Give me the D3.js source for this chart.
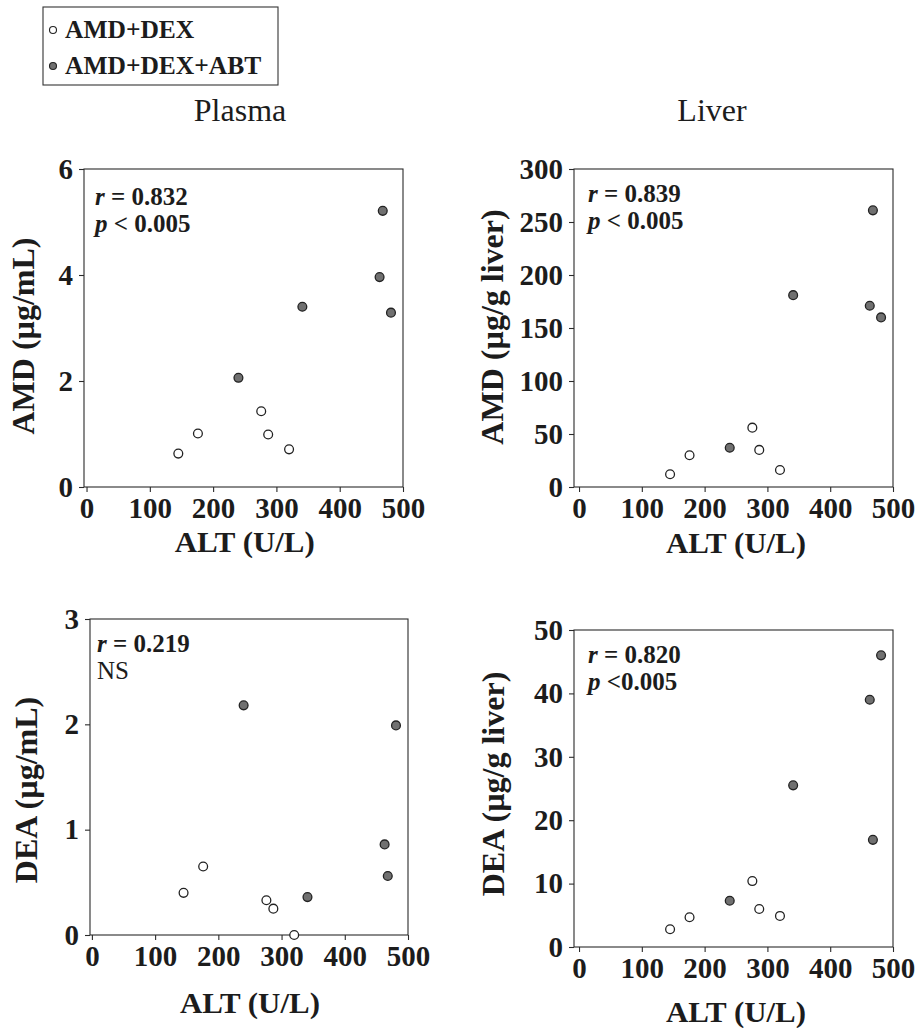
<!DOCTYPE html>
<html>
<head>
<meta charset="utf-8">
<script src="https://cdn.jsdelivr.net/npm/d3@7"></script>
<style>
  body { margin: 0; background: #fff; }
  svg { display: block; }
  text { font-family: "Liberation Serif", "Times New Roman", serif; fill: #1c1c1c; }
</style>
</head>
<body>
<svg id="chart" width="923" height="1028"></svg>
<script>
// Treatment groups
const groups = ["AMD+DEX", "AMD+DEX+ABT"];

// ALT (U/L) of each animal, per group
const altAmdDex    = [145, 176, 276, 287, 320];
const altAmdDexAbt = [240, 341, 463, 468, 481];

// Amiodarone (AMD) and desethylamiodarone (DEA) concentrations
const plasmaAmdDex    = [0.63, 1.01, 1.43, 0.99, 0.71];   // µg/mL
const plasmaAmdDexAbt = [2.06, 3.40, 3.96, 5.21, 3.29];
const liverAmdDex     = [12, 30, 56, 35, 16];              // µg/g liver
const liverAmdDexAbt  = [37, 181, 171, 261, 160];
const plasmaDeaDex    = [0.40, 0.65, 0.33, 0.25, 0.00];    // µg/mL
const plasmaDeaDexAbt = [2.18, 0.36, 0.86, 0.56, 1.99];
const liverDeaDex     = [2.8, 4.7, 10.4, 6.0, 4.9];        // µg/g liver
const liverDeaDexAbt  = [7.3, 25.5, 39.0, 16.9, 46.0];

// Axis ticks
const altTicks       = [0, 100, 200, 300, 400, 500];
const plasmaAmdTicks = [0, 2, 4, 6];
const liverAmdTicks  = [0, 50, 100, 150, 200, 250, 300];
const plasmaDeaTicks = [0, 1, 2, 3];
const liverDeaTicks  = [0, 10, 20, 30, 40, 50];

// Labels
const columnTitles = ["Plasma", "Liver"];
const xTitle = "ALT (U/L)";
const yTitles = ["AMD (µg/mL)", "AMD (µg/g liver)", "DEA (µg/mL)", "DEA (µg/g liver)"];
const rValues = ["0.832", "0.839", "0.219", "0.820"];
const pTexts  = ["< 0.005", "< 0.005", null, "<0.005"];

const svg = d3.select("#chart");

const panels = [
  { box: [84, 169, 403, 487], xMin: -4, yTicks: plasmaAmdTicks, open: plasmaAmdDex, fill: plasmaAmdDexAbt,
    yTitle: yTitles[0], yTitlePos: [23, 336], xTitleY: 552, r: rValues[0], p: pTexts[0], stat: [95, 205] },
  { box: [574, 169, 893, 487], xMin: -8, yTicks: liverAmdTicks, open: liverAmdDex, fill: liverAmdDexAbt,
    yTitle: yTitles[1], yTitlePos: [492, 327], xTitleY: 553, r: rValues[1], p: pTexts[1], stat: [588, 202] },
  { box: [90, 619, 408, 935], xMin: -3, yTicks: plasmaDeaTicks, open: plasmaDeaDex, fill: plasmaDeaDexAbt,
    yTitle: yTitles[2], yTitlePos: [26, 790], xTitleY: 1013, r: rValues[2], p: pTexts[2], stat: [97, 652] },
  { box: [574, 630, 893, 947], xMin: -8, yTicks: liverDeaTicks, open: liverDeaDex, fill: liverDeaDexAbt,
    yTitle: yTitles[3], yTitlePos: [493, 784], xTitleY: 1022, r: rValues[3], p: pTexts[3], stat: [588, 663] }
];

panels.forEach(pn => {
  const [x0, y0, x1, y1] = pn.box;
  const x = d3.scaleLinear().domain([pn.xMin, 500]).range([x0, x1]);
  const yMax = pn.yTicks[pn.yTicks.length - 1];
  const y = d3.scaleLinear().domain([0, yMax]).range([y1, y0]);
  const g = svg.append("g");

  // frame
  g.append("rect")
    .attr("x", x0).attr("y", y0).attr("width", x1 - x0).attr("height", y1 - y0)
    .attr("fill", "none").attr("stroke", "#2a2a2a").attr("stroke-width", 1.1);

  const xAxis = g.append("g").attr("transform", `translate(0,${y1})`)
    .call(d3.axisBottom(x).tickValues(altTicks).tickFormat(d3.format("d"))
      .tickSizeOuter(0).tickSize(5).tickPadding(5));
  const yAxis = g.append("g").attr("transform", `translate(${x0},0)`)
    .call(d3.axisLeft(y).tickValues(pn.yTicks).tickFormat(d3.format("d"))
      .tickSizeOuter(0).tickSize(5).tickPadding(6));
  [xAxis, yAxis].forEach(a => {
    a.select(".domain").remove();
    a.selectAll(".tick line").attr("stroke", "#2a2a2a").attr("stroke-width", 1.1);
    a.selectAll(".tick text")
      .attr("fill", "#1c1c1c")
      .style("font-family", '"Liberation Serif", serif')
      .style("font-weight", "bold")
      .style("font-size", "29px");
  });

  // axis titles
  g.append("text")
    .attr("x", (x(0) + x(500)) / 2).attr("y", pn.xTitleY)
    .attr("text-anchor", "middle")
    .attr("textLength", 140).attr("lengthAdjust", "spacingAndGlyphs")
    .style("font-weight", "bold").style("font-size", "30px")
    .text(xTitle);
  g.append("text")
    .attr("transform", `translate(${pn.yTitlePos[0]},${pn.yTitlePos[1]}) rotate(-90)`)
    .attr("text-anchor", "middle").attr("dy", "0.35em")
    .style("font-weight", "bold").style("font-size", "32px")
    .text(pn.yTitle);

  // correlation statistics
  const st = g.append("text").attr("x", pn.stat[0]).attr("y", pn.stat[1])
    .style("font-weight", "bold").style("font-size", "25px");
  st.append("tspan").style("font-style", "italic").text("r");
  st.append("tspan").text(" = " + pn.r);
  const st2 = g.append("text").attr("x", pn.stat[0]).attr("y", pn.stat[1] + 27)
    .style("font-weight", "bold").style("font-size", "25px");
  if (pn.p) {
    st2.append("tspan").style("font-style", "italic").text("p");
    st2.append("tspan").text(" " + pn.p);
  } else {
    st2.style("font-weight", "normal").text("NS");
  }

  // points
  const rad = 4.4;
  g.selectAll(".open").data(altAmdDex.map((a, i) => [a, pn.open[i]])).join("circle")
    .attr("cx", d => x(d[0])).attr("cy", d => y(d[1])).attr("r", rad)
    .attr("fill", "#fff").attr("stroke", "#222").attr("stroke-width", 1.3);
  g.selectAll(".filled").data(altAmdDexAbt.map((a, i) => [a, pn.fill[i]])).join("circle")
    .attr("cx", d => x(d[0])).attr("cy", d => y(d[1])).attr("r", rad)
    .attr("fill", "#707070").attr("stroke", "#222").attr("stroke-width", 1.3);
});

// column titles
[[240, 121], [712, 121]].forEach((pos, i) => {
  svg.append("text").attr("x", pos[0]).attr("y", pos[1]).attr("text-anchor", "middle")
    .style("font-size", "32px").text(columnTitles[i]);
});

// legend
const lg = svg.append("g");
lg.append("rect").attr("x", 43).attr("y", 7).attr("width", 235).attr("height", 78)
  .attr("fill", "#fff").attr("stroke", "#333").attr("stroke-width", 1.1);
groups.forEach((name, i) => {
  const cy = 30 + i * 36;
  lg.append("circle").attr("cx", 53).attr("cy", cy).attr("r", 3.5)
    .attr("fill", i ? "#707070" : "#fff").attr("stroke", "#222").attr("stroke-width", 1.1);
  lg.append("text").attr("x", 65).attr("y", cy + 8)
    .style("font-weight", "bold").style("font-size", "25.5px").text(name);
});
</script>
</body>
</html>
